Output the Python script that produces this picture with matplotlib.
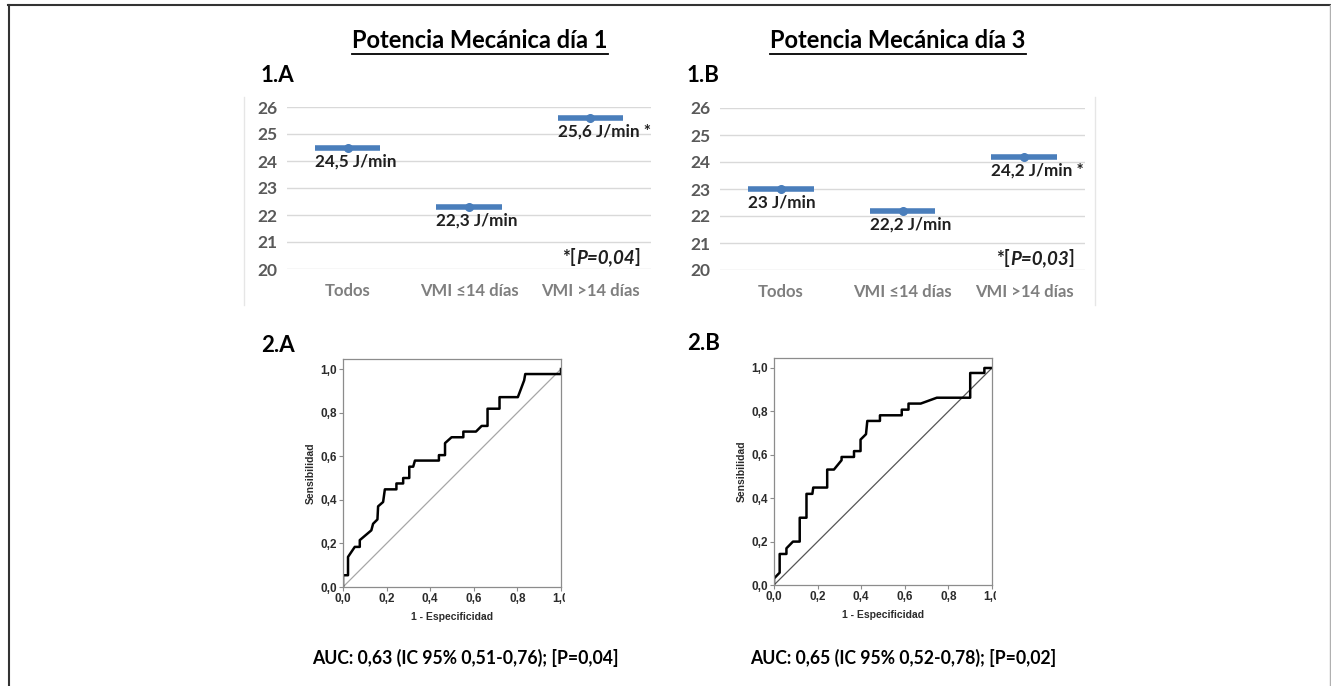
import numpy as np
import matplotlib
matplotlib.use("Agg")
import matplotlib.pyplot as plt
from matplotlib.lines import Line2D
from matplotlib.transforms import Bbox

W, H = 1331, 686

# ----------------------------------------------------------------------------
# datos
categorias = ["Todos", "VMI ≤14 días", "VMI >14 días"]
potencia_dia1 = [24.5, 22.3, 25.6]
potencia_dia3 = [23.0, 22.2, 24.2]
etiquetas_dia1 = ["24,5 J/min", "22,3 J/min", "25,6 J/min *"]
etiquetas_dia3 = ["23 J/min", "22,2 J/min", "24,2 J/min *"]
p_dia1 = "P=0,04"
p_dia3 = "P=0,03"

# curvas ROC (vertices)
fpr_a = [0.0, 0.0, 0.023, 0.023, 0.054, 0.077, 0.077, 0.13, 0.138, 0.158,
         0.161, 0.184, 0.192, 0.245, 0.245, 0.276, 0.276, 0.304, 0.304, 0.322,
         0.33, 0.44, 0.44, 0.468, 0.468, 0.498, 0.552, 0.552, 0.61, 0.636,
         0.663, 0.663, 0.718, 0.718, 0.802, 0.813, 0.831, 0.836, 1.0, 1.0]
tpr_a = [0.0, 0.054, 0.054, 0.138, 0.184, 0.184, 0.215, 0.26, 0.29, 0.31,
         0.37, 0.39, 0.448, 0.448, 0.475, 0.475, 0.5, 0.5, 0.552, 0.552,
         0.58, 0.58, 0.605, 0.605, 0.66, 0.687, 0.687, 0.713, 0.713, 0.739,
         0.739, 0.818, 0.818, 0.871, 0.871, 0.9, 0.948, 0.977, 0.977, 1.0]
fpr_b = [0.0, 0.0, 0.026, 0.026, 0.057, 0.057, 0.087, 0.118, 0.118, 0.149,
         0.149, 0.176, 0.18, 0.244, 0.244, 0.275, 0.31, 0.31, 0.367, 0.367,
         0.397, 0.397, 0.422, 0.428, 0.486, 0.486, 0.586, 0.586, 0.617, 0.617,
         0.673, 0.747, 0.9, 0.9, 0.965, 0.965, 1.0]
tpr_b = [0.0, 0.03, 0.057, 0.143, 0.143, 0.169, 0.2, 0.2, 0.31, 0.31,
         0.42, 0.42, 0.449, 0.449, 0.532, 0.532, 0.575, 0.59, 0.59, 0.617,
         0.617, 0.67, 0.695, 0.756, 0.756, 0.782, 0.782, 0.808, 0.808, 0.836,
         0.836, 0.863, 0.863, 0.977, 0.977, 1.0, 1.0]
auc_a = "AUC: 0,63 (IC 95% 0,51-0,76); [P=0,04]"
auc_b = "AUC: 0,65 (IC 95% 0,52-0,78); [P=0,02]"

AZUL = "#4a7ebb"
EXCEL = ["Lato", "DejaVu Sans"]
SPSS = ["Liberation Sans", "DejaVu Sans"]

fig = plt.figure(figsize=(W / 100, H / 100), dpi=100)


def px_axes(x0, y0, x1, y1):
    return fig.add_axes([x0 / W, 1 - y1 / H, (x1 - x0) / W, (y1 - y0) / H])


def ftext(x, y, s, **kw):
    return fig.text(x / W, 1 - y / H, s, **kw)


def panel_potencia(ax, valores, etiquetas, pval):
    x = np.arange(len(categorias))
    ax.set_xlim(-0.5, 2.5)
    ax.set_ylim(20, 26)
    ax.set_yticks(range(20, 27))
    ax.grid(axis="y", color="#d9d9d9", lw=1)
    ax.set_axisbelow(True)
    for s in ax.spines.values():
        s.set_visible(False)
    ax.tick_params(axis="y", length=0, pad=7, labelsize=12.5, labelcolor="#595959")
    ax.tick_params(axis="x", length=0, pad=10, labelsize=12, labelcolor="#7f7f7f")
    ax.set_xticks(x)
    ax.set_xticklabels(categorias)
    for lbl in ax.get_xticklabels() + ax.get_yticklabels():
        lbl.set_fontweight("bold")
        lbl.set_family(EXCEL)
    ax.hlines(valores, x - 0.27, x + 0.27, color=AZUL, lw=4)
    ax.plot(x, valores, "o", color=AZUL, ms=5.5)
    for xi, v, et in zip(x, valores, etiquetas):
        ax.annotate(et, (xi - 0.27, v), xytext=(0, -14), textcoords="offset pixels",
                    ha="left", va="center", fontsize=12.3, fontweight="bold",
                    color="#1f1f1f", family=EXCEL)
    t1 = ax.text(1.77, 20.44, "*[", ha="left", va="center", fontsize=13.5,
                 fontweight="bold", color="#1f1f1f", family=EXCEL)
    t2 = ax.annotate(pval, xy=(1, 0), xycoords=t1, ha="left", va="bottom",
                     fontsize=13.5, fontweight="bold", style="italic",
                     color="#1f1f1f", family=EXCEL)
    ax.annotate("]", xy=(1, 0), xycoords=t2, ha="left", va="bottom",
                fontsize=13.5, fontweight="bold", color="#1f1f1f", family=EXCEL)


def panel_roc(ax, fpr, tpr, diag_color, clip_x):
    ax.plot([0, 1], [0, 1], color=diag_color, lw=0.9)
    ax.plot(fpr, tpr, color="black", lw=1.8)
    ax.set_xlim(0, 1)
    ax.set_ylim(0, 1.046)
    ticks = np.arange(0, 1.01, 0.2)
    lbls = [f"{t:.1f}".replace(".", ",") for t in ticks]
    ax.set_xticks(ticks)
    ax.set_xticklabels(lbls)
    ax.set_yticks(ticks)
    ax.set_yticklabels(lbls)
    for s in ax.spines.values():
        s.set_color("#8c8c8c")
        s.set_linewidth(0.9)
    ax.tick_params(direction="out", length=3, color="#8c8c8c", labelsize=8.5,
                   labelcolor="#2b2b2b", pad=1.5)
    for lbl in ax.get_xticklabels() + ax.get_yticklabels():
        lbl.set_fontweight("bold")
        lbl.set_family(SPSS)
    ax.set_xlabel("1 - Especificidad", fontsize=7.5, fontweight="bold",
                  family=SPSS, color="#2b2b2b", labelpad=5)
    ax.set_ylabel("Sensibilidad", fontsize=7.5, fontweight="bold",
                  family=SPSS, color="#2b2b2b", labelpad=3)
    # la etiqueta 1,0 aparece cortada en el original
    for lbl in ax.get_xticklabels():
        lbl.set_clip_box(Bbox([[0, 0], [clip_x, H]]))
        lbl.set_clip_on(True)


# --- graficos superiores -------------------------------------------------------
ax1 = px_axes(287, 107, 651, 269)
panel_potencia(ax1, potencia_dia1, etiquetas_dia1, p_dia1)
ax2 = px_axes(720, 108, 1085, 270)
panel_potencia(ax2, potencia_dia3, etiquetas_dia3, p_dia3)

tit1 = ftext(480, 41, "Potencia Mecánica día 1", ha="center", va="center",
             fontsize=17, fontweight="bold", family=EXCEL, color="black")
tit2 = ftext(898, 41, "Potencia Mecánica día 3", ha="center", va="center",
             fontsize=17, fontweight="bold", family=EXCEL, color="black")
ftext(261, 75, "1.A", ha="left", va="center", fontsize=16, fontweight="bold", family=EXCEL)
ftext(687, 75, "1.B", ha="left", va="center", fontsize=16, fontweight="bold", family=EXCEL)

# --- curvas ROC -----------------------------------------------------------------
ax3 = px_axes(343, 359, 561, 587)
panel_roc(ax3, fpr_a, tpr_a, "#a6a6a6", 565)
ax4 = px_axes(774, 358, 992, 585)
panel_roc(ax4, fpr_b, tpr_b, "#555555", 996)

ftext(261, 346, "2.A", ha="left", va="center", fontsize=16, fontweight="bold", family=EXCEL)
ftext(687, 343, "2.B", ha="left", va="center", fontsize=16, fontweight="bold", family=EXCEL)
ftext(312, 658, auc_a, ha="left", va="center", fontsize=12.7, fontweight="bold", family=EXCEL)
ftext(750, 658, auc_b, ha="left", va="center", fontsize=12.7, fontweight="bold", family=EXCEL)

# marco de la figura y bordes tenues de los graficos de Excel
fig.add_artist(Line2D([8 / W, 1], [1 - 5 / H, 1 - 5 / H], color="#333333", lw=1.5))
fig.add_artist(Line2D([9 / W, 9 / W], [0, 1 - 5 / H], color="#333333", lw=1.5))
fig.add_artist(Line2D([1329.5 / W, 1329.5 / W], [0, 1 - 5 / H], color="#b0b0b0", lw=1))
for xb in (244, 1095):
    fig.add_artist(Line2D([xb / W, xb / W], [1 - 97 / H, 1 - 305 / H], color="#e6e6e6", lw=1))

# subrayado de los titulos
fig.canvas.draw()
for t in (tit1, tit2):
    bb = t.get_window_extent()
    fig.add_artist(Line2D([bb.x0 / W, bb.x1 / W], [(bb.y0 - 1) / H, (bb.y0 - 1) / H],
                          color="black", lw=1.3))

fig.savefig("out.png", dpi=100)
